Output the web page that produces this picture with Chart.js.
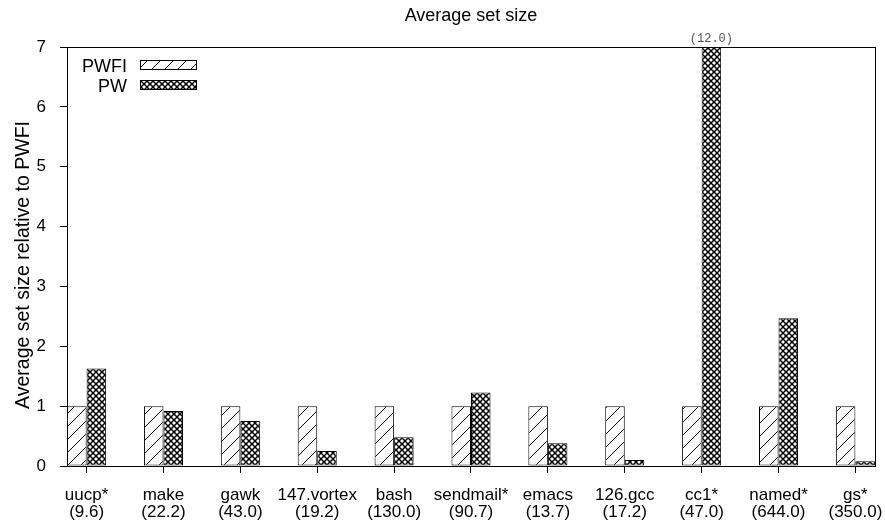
<!DOCTYPE html>
<html>
<head>
<meta charset="utf-8">
<script src="https://cdn.jsdelivr.net/npm/chart.js@4.4.1/dist/chart.umd.min.js"></script>
<style>
html,body{margin:0;padding:0;background:#fff;}
#wrap{width:885px;height:527px;position:relative;}
</style>
</head>
<body>
<div id="wrap"><canvas id="c" width="885" height="527"></canvas></div>
<script>
// ---- data ----
const categories = ['uucp*','make','gawk','147.vortex','bash','sendmail*','emacs','126.gcc','cc1*','named*','gs*'];
const baseSizes  = ['(9.6)','(22.2)','(43.0)','(19.2)','(130.0)','(90.7)','(13.7)','(17.2)','(47.0)','(644.0)','(350.0)'];
const pwfiValues = [1,1,1,1,1,1,1,1,1,1,1];
const pwValues   = [1.63,0.92,0.75,0.25,0.48,1.23,0.38,0.10,12.0,2.47,0.08];
const yTicks     = [0,1,2,3,4,5,6,7];
const seriesNames = ['PWFI','PW'];
const chartTitle = 'Average set size';
const yTitle = 'Average set size relative to PWFI';

const FONT = '"Liberation Sans", Arial, Helvetica, sans-serif';

function hatchPattern(){
  const s = 13, c = document.createElement('canvas');
  c.width = s; c.height = s;
  const g = c.getContext('2d');
  g.fillStyle = '#fff'; g.fillRect(0,0,s,s);
  g.strokeStyle = '#000'; g.lineWidth = 1;
  g.beginPath();
  g.moveTo(0,s); g.lineTo(s,0);
  g.moveTo(-2,2); g.lineTo(2,-2);
  g.moveTo(s-2,s+2); g.lineTo(s+2,s-2);
  g.stroke();
  return g.createPattern(c,'repeat');
}
function crossPattern(){
  const s = 6, c = document.createElement('canvas');
  c.width = s; c.height = s;
  const g = c.getContext('2d');
  g.fillStyle = '#fff'; g.fillRect(0,0,s,s);
  g.strokeStyle = '#000'; g.lineWidth = 1.5;
  g.beginPath();
  g.moveTo(-1,-1); g.lineTo(s+1,s+1);
  g.moveTo(-1,s+1); g.lineTo(s+1,-1);
  g.stroke();
  return g.createPattern(c,'repeat');
}
const patterns = [hatchPattern(), crossPattern()];

const toPoints = arr => arr.map((v,i)=>({x:i,y:v}));

const framePlugin = {
  id:'frame',
  afterDraw(chart){
    const {ctx, chartArea:a} = chart;
    ctx.save();
    ctx.strokeStyle = '#000'; ctx.lineWidth = 1;
    ctx.strokeRect(Math.round(a.left)+0.5, Math.round(a.top)+0.5, Math.round(a.right-a.left), Math.round(a.bottom-a.top));
    // title
    ctx.fillStyle = '#000';
    ctx.font = '18px ' + FONT;
    ctx.textAlign = 'center'; ctx.textBaseline = 'alphabetic';
    ctx.fillText(chartTitle, (a.left+a.right)/2, 21);
    // y title
    ctx.save();
    ctx.translate(28.5, 265);
    ctx.rotate(-Math.PI/2);
    ctx.font = '19.5px ' + FONT;
    ctx.fillText(yTitle, 0, 0);
    ctx.restore();
    // legend
    ctx.font = '18px ' + FONT;
    ctx.textAlign = 'right';
    chart.data.datasets.forEach((ds,i)=>{
      const yb = a.top + 13 + i*20;
      ctx.fillStyle = '#000';
      ctx.fillText(ds.label, a.left + 60, yb + 11.5);
      ctx.fillStyle = ds.backgroundColor;
      ctx.fillRect(a.left + 73, yb, 57, 10);
      ctx.strokeRect(a.left + 73.5, yb + 0.5, 56, 9);
    });
    // out-of-range labels
    const ymax = chart.scales.y.max;
    ctx.font = '12px "Liberation Mono", "DejaVu Sans Mono", monospace';
    ctx.fillStyle = '#555';
    ctx.textAlign = 'center'; ctx.textBaseline = 'alphabetic';
    chart.data.datasets.forEach((ds,i)=>{
      const meta = chart.getDatasetMeta(i);
      ds.data.forEach((p,j)=>{
        if (p.y > ymax){
          ctx.fillText('(' + p.y.toFixed(1) + ')', meta.data[j].x, a.top - 5);
        }
      });
    });
    ctx.restore();
  }
};

new Chart(document.getElementById('c'), {
  type:'bar',
  data:{
    datasets:[
      {label:seriesNames[0], data:toPoints(pwfiValues), backgroundColor:patterns[0], borderColor:'#000', borderWidth:1, borderSkipped:false},
      {label:seriesNames[1], data:toPoints(pwValues), backgroundColor:patterns[1], borderColor:'#000', borderWidth:1, borderSkipped:false}
    ]
  },
  options:{
    responsive:false,
    animation:false,
    events:[],
    layout:{padding:{top:47,right:10,left:0,bottom:0}},
    datasets:{bar:{categoryPercentage:0.508, barPercentage:1.0}},
    plugins:{legend:{display:false}, title:{display:false}, tooltip:{enabled:false}},
    scales:{
      x:{
        type:'linear',
        offset:false,
        min:-0.255, max:10.255,
        afterFit(s){ s.height = 61; s.paddingLeft = 0; s.paddingRight = 0; },
        grid:{display:true, offset:false, drawOnChartArea:false, drawTicks:true, tickLength:7, color:'#000'},
        border:{display:true, color:'#000', width:1},
        ticks:{
          stepSize:1, includeBounds:false, autoSkip:false, maxRotation:0, minRotation:0,
          padding:14, color:'#000',
          font:{family:FONT, size:17, lineHeight:1.0},
          callback(v){ const i = Math.round(v); return (Math.abs(v-i)<1e-6 && categories[i]!==undefined) ? [categories[i], baseSizes[i]] : ''; }
        }
      },
      y:{
        min:yTicks[0], max:yTicks[yTicks.length-1],
        afterFit(s){ s.width = 67; s.paddingTop = 0; s.paddingBottom = 0; },
        afterBuildTicks(s){ s.ticks = yTicks.map(v=>({value:v})); },
        grid:{display:true, drawOnChartArea:false, drawTicks:true, tickLength:7, color:'#000'},
        border:{display:true, color:'#000', width:1},
        ticks:{padding:14, color:'#000', font:{family:FONT, size:17}}
      }
    }
  },
  plugins:[framePlugin]
});
</script>
</body>
</html>
